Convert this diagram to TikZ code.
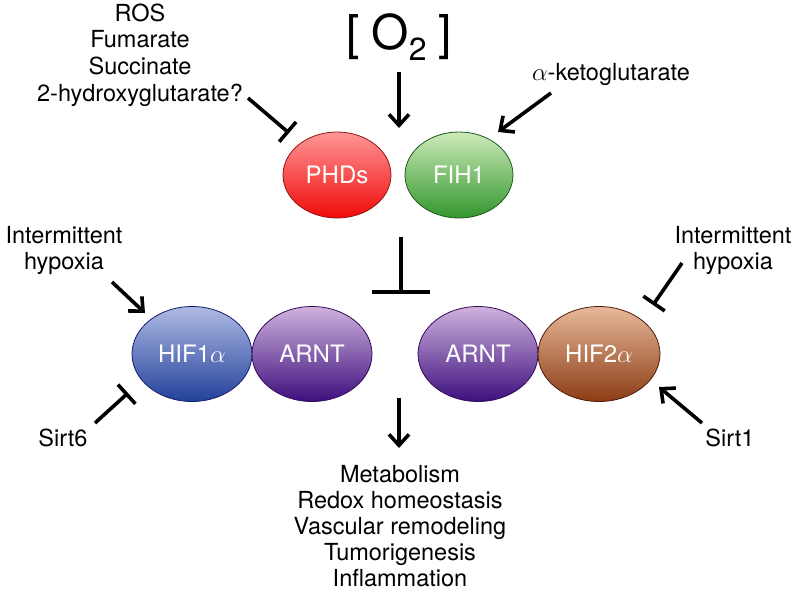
\documentclass[tikz,border=0pt]{standalone}
\usepackage{fontspec}
\setmainfont{TeX Gyre Heros}
\usetikzlibrary{shapes.geometric,arrows.meta,shadings}
\definecolor{phdT}{RGB}{255,150,150}
\definecolor{phdB}{RGB}{240,10,10}
\definecolor{phdD}{RGB}{150,20,20}
\definecolor{fihT}{RGB}{205,235,185}
\definecolor{fihB}{RGB}{50,150,45}
\definecolor{fihD}{RGB}{30,90,30}
\definecolor{h1T}{RGB}{175,186,228}
\definecolor{h1B}{RGB}{35,65,155}
\definecolor{h1D}{RGB}{20,30,110}
\definecolor{arT}{RGB}{208,178,222}
\definecolor{arB}{RGB}{60,15,125}
\definecolor{arD}{RGB}{50,10,90}
\definecolor{h2T}{RGB}{230,185,155}
\definecolor{h2B}{RGB}{140,60,20}
\definecolor{h2D}{RGB}{80,25,10}
\begin{document}
\begin{tikzpicture}[x=1pt,y=-1pt,
  lbl/.style={font=\fontsize{23.5}{26}\selectfont, align=center, inner sep=0pt, text=black},
  blob/.style={ellipse, draw=#1, line width=0.8pt, inner sep=0pt,
    font=\fontsize{24}{26}\selectfont, text=white},
  act/.style={line width=3.6pt, -{Straight Barb[length=11pt,width=20pt,line width=3.6pt]}},
  inh/.style={line width=3.6pt, -{Bar[width=26pt,line width=3.6pt]}}]
\useasboundingbox (0,0) rectangle (800,590);

% texts
\node[lbl, font=\fontsize{23.5}{26.7}\selectfont] (ros) at (140,55) {ROS\\Fumarate\\Succinate\\2-hydroxyglutarate?};
\node[lbl, font=\fontsize{48}{50}\selectfont] (o2) at (399,37) {[\hspace{12pt}O\raisebox{-0.22em}{\fontsize{32}{34}\selectfont 2}\hspace{12pt}]};
\node[lbl] (akg) at (611,74) {$\alpha$-ketoglutarate};
\node[lbl] (ihl) at (64,250) {Intermittent\\hypoxia};
\node[lbl] (ihr) at (733,250) {Intermittent\\hypoxia};
\node[lbl] (sirt6) at (63,438) {Sirt6};
\node[lbl] (sirt1) at (730,438) {Sirt1};
\node[lbl] (out) at (400,526) {Metabolism\\Redox homeostasis\\Vascular remodeling\\Tumorigenesis\\Inflammation};

% ellipses
\node[blob=phdD, minimum width=108pt, minimum height=86pt,
  top color=phdT, bottom color=phdB] (phd) at (337,175) {PHDs};
\node[blob=fihD, minimum width=108pt, minimum height=86pt,
  top color=fihT, bottom color=fihB] (fih) at (459,175) {FIH1};
\node[blob=h1D, minimum width=120pt, minimum height=95pt,
  top color=h1T, bottom color=h1B] (hif1) at (192,354) {HIF1$\alpha$};
\node[blob=arD, minimum width=120pt, minimum height=95pt,
  top color=arT, bottom color=arB] (arntl) at (312,354) {ARNT};
\node[blob=arD, minimum width=120pt, minimum height=95pt,
  top color=arT, bottom color=arB] (arntr) at (478,354) {ARNT};
\node[blob=h2D, minimum width=122pt, minimum height=95pt,
  top color=h2T, bottom color=h2B] (hif2) at (599,354) {HIF2$\alpha$};

% coordinates
\coordinate (rosS) at (248,98);
\coordinate (rosE) at (289,133);
\coordinate (o2S) at (399,72);
\coordinate (o2E) at (399,128);
\coordinate (akgS) at (551,93);
\coordinate (akgE) at (498,132);
\coordinate (tS) at (401,237);
\coordinate (tE) at (401,294);
\coordinate (ihlS) at (112,282);
\coordinate (ihlE) at (145,313);
\coordinate (s6S) at (95,423);
\coordinate (s6E) at (128,393);
\coordinate (ihrS) at (682,263);
\coordinate (ihrE) at (653,305);
\coordinate (s1S) at (702,423);
\coordinate (s1E) at (659,387);
\coordinate (dS) at (399,398);
\coordinate (dE) at (399,448);

% connectors
\draw[inh] (rosS) -- (rosE);
\draw[act] (o2S) -- (o2E);
\draw[act] (akgS) -- (akgE);
\draw[line width=3.6pt, -{Bar[width=58pt,line width=3.6pt]}] (tS) -- (tE);
\draw[act] (ihlS) -- (ihlE);
\draw[inh] (s6S) -- (s6E);
\draw[inh] (ihrS) -- (ihrE);
\draw[act] (s1S) -- (s1E);
\draw[act] (dS) -- (dE);
\end{tikzpicture}
\end{document}
